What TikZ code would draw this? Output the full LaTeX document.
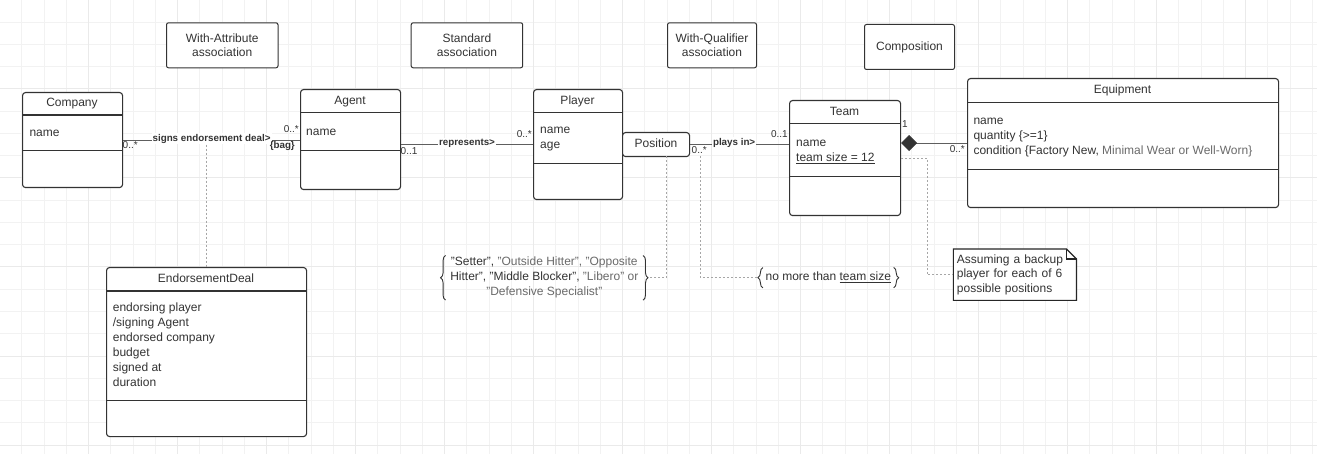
\documentclass[tikz,border=0pt]{standalone}
\usepackage{fontspec}
\setmainfont{Liberation Sans}
\usetikzlibrary{arrows.meta,decorations.pathreplacing,calc}
\definecolor{ink}{HTML}{333333}
\definecolor{softink}{HTML}{6A6A6A}
\definecolor{lineclr}{HTML}{5E5E5E}
\definecolor{dotclr}{HTML}{A6A6A6}
\definecolor{gridminor}{HTML}{F2F2F2}
\definecolor{gridmajor}{HTML}{EAEAEA}
\tikzset{
  cls/.style={draw=ink, line width=1.1pt, rounded corners=3pt, fill=white, inner sep=0pt, anchor=north west, text=ink, font=\fontsize{12}{14}\selectfont},
  sepl/.style={draw=ink, line width=1.1pt},
  ttl/.style={font=\fontsize{12}{14}\selectfont, text=ink, anchor=base, inner sep=0pt},
  attr/.style={font=\fontsize{12}{15}\selectfont, text=ink, anchor=north west, inner sep=0pt, align=left},
  tag/.style={draw=ink, line width=1pt, rounded corners=2pt, fill=white, inner sep=0pt, anchor=north west, align=center, text=ink, font=\fontsize{12}{13.6}\selectfont},
  conn/.style={draw=lineclr, line width=0.9pt},
  dotc/.style={draw=dotclr, line width=1pt, dash pattern=on 2pt off 2pt},
  lbl/.style={font=\fontsize{9.8}{11}\selectfont\bfseries, text=ink, fill=white, inner sep=1pt, anchor=base, yshift=-1pt},
  mult/.style={font=\fontsize{10}{12}\selectfont, text=ink, inner sep=0pt},
  brc/.style={draw=ink, line width=0.9pt, decorate, decoration={brace, amplitude=5pt, raise=-5pt}},
  cnstr/.style={font=\fontsize{12}{14.75}\selectfont, text=ink, inner ysep=0pt},
  notebox/.style={anchor=north west, fill=white, text width=116pt, inner xsep=3.4pt, inner ysep=0pt, minimum height=51pt, font=\fontsize{12}{14.5}\selectfont, text=ink, align=left},
  notec/.style={draw=black!85, line width=1.1pt}
}
\begin{document}
\begin{tikzpicture}[x=1pt,y=-1pt]
\useasboundingbox (0,0) rectangle (1317,454);
\fill[white] (0,0) rectangle (1317,454);
% grid
\foreach \i in {0,...,59}{\pgfmathsetmacro\gx{\i*22.25-0.5}\draw[gridminor, line width=1pt] (\gx,0) -- (\gx,454);}
\foreach \i in {0,...,20}{\pgfmathsetmacro\gy{\i*22.25}\draw[gridminor, line width=1pt] (0,\gy) -- (1317,\gy);}
\foreach \i in {0,...,14}{\pgfmathsetmacro\gx{\i*89-0.5}\draw[gridmajor, line width=1pt] (\gx,0) -- (\gx,454);}
\foreach \i in {0,...,5}{\pgfmathsetmacro\gy{\i*89}\draw[gridmajor, line width=1pt] (0,\gy) -- (1317,\gy);}

% top tags
\node[tag, minimum width=111.5pt, minimum height=45pt] (tagA) at (166,22.3) {With-Attribute\\association};
\node[tag, minimum width=111.5pt, minimum height=45pt] (tagS) at (410.7,22.3) {Standard\\association};
\node[tag, minimum width=89pt, minimum height=45pt] (tagQ) at (667,22.3) {With-Qualifier\\association};
\node[tag, minimum width=90pt, minimum height=45pt] (tagC) at (864,24) {Composition};

% classes
\node[cls, minimum width=100pt, minimum height=95pt] (company) at (22,92) {};
\draw[sepl] (22,115) -- (122,115);
\draw[sepl] (22,150.7) -- (122,150.7);
\node[ttl] (companyT) at (72,106.7) {Company};
\node[attr] (companyA) at (29.3,125.5) {\strut name};

\node[cls, minimum width=100pt, minimum height=100pt] (agent) at (300,89) {};
\draw[sepl] (300,112.7) -- (400,112.7);
\draw[sepl] (300,150.7) -- (400,150.7);
\node[ttl] (agentT) at (350,105) {Agent};
\node[attr] (agentA) at (306,124.5) {\strut name};

\node[cls, minimum width=89pt, minimum height=110pt] (player) at (533,89) {};
\draw[sepl] (533,112.7) -- (622,112.7);
\draw[sepl] (533,163.3) -- (622,163.3);
\node[ttl] (playerT) at (577.5,105) {Player};
\node[attr] (playerA) at (540,122.8) {\strut name\\age};

\node[cls, minimum width=67pt, minimum height=24pt, text height=8.6pt, text depth=3.5pt] (position) at (622,132) {Position};

\node[cls, minimum width=111pt, minimum height=115pt] (team) at (789,100) {};
\draw[sepl] (789,123.3) -- (900,123.3);
\draw[sepl] (789,176.7) -- (900,176.7);
\node[ttl] (teamT) at (844.5,115.7) {Team};
\node[attr] (teamA) at (796,135.5) {\strut name\\\underline{team size = 12}};

\node[cls, minimum width=311pt, minimum height=129pt] (equipment) at (967,78) {};
\draw[sepl] (967,102.3) -- (1278,102.3);
\draw[sepl] (967,169.3) -- (1278,169.3);
\node[ttl] (equipmentT) at (1122.5,93.3) {Equipment};
\node[attr] (equipmentA) at (973.3,113.8) {\strut name\\quantity \{>=1\}\\condition \{Factory New, \textcolor{softink}{Minimal Wear or Well-Worn\}}};

\node[cls, minimum width=200pt, minimum height=169pt] (deal) at (106,267) {};
\draw[sepl] (106,291) -- (306,291);
\draw[sepl] (106,400.7) -- (306,400.7);
\node[ttl] (dealT) at (206,282.3) {EndorsementDeal};
\node[attr] (dealA) at (112.7,300.5) {\strut endorsing player\\/signing Agent\\endorsed company\\budget\\signed at\\duration};

% associations
\draw[conn] (company.east) -- node[lbl, pos=0.5] (sed) {signs endorsement deal>} (company.east -| agent.west);
\draw[conn] (agent.east |- player.west) -- node[lbl, pos=0.5] (rep) {represents>} (player.west);
\draw[conn] (position.east) -- node[lbl, pos=0.445] (pin) {plays in>} (position.east -| team.west);
\draw[conn, -{Diamond[length=16pt, width=16pt, color=ink, fill=ink]}] (equipment.west) -- (equipment.west -| team.east);

% multiplicities
\node[mult, anchor=base west] (m1) at (122.5,149) {0..*};
\node[mult, anchor=base east] (m2) at (299,132.7) {0..*};
\node[mult, anchor=base east, font=\fontsize{9.8}{11}\selectfont\bfseries] (m3) at (295,149) {\{bag\}};
\node[mult, anchor=base west] (m4) at (400.5,154.5) {0..1};
\node[mult, anchor=base east] (m5) at (532,137.3) {0..*};
\node[mult, anchor=base west] (m6) at (691.5,154) {0..*};
\node[mult, anchor=base east] (m7) at (788,137.3) {0..1};
\node[mult, anchor=base west] (m8) at (902,127.3) {1};
\node[mult, anchor=base east] (m9) at (965,152.7) {0..*};

% association class link
\draw[dotc] (deal.north |- sed.south) -- (deal.north);

% constraints
\node[cnstr, align=center, inner xsep=9.5pt] (setc) at (544.3,277.8) {\strut "Setter", \textcolor{softink}{"Outside Hitter", "Opposite}\\Hitter", "Middle Blocker", \textcolor{softink}{"Libero" or}\\\textcolor{softink}{"Defensive Specialist"}\strut};
\draw[brc] (setc.south west) -- (setc.north west);
\draw[brc] (setc.north east) -- (setc.south east);

\node[cnstr, inner xsep=7.5pt, text height=13pt, text depth=7pt, anchor=base] (tsc) at (828.3,280.7) {no more than \underline{team size}};
\draw[brc] (tsc.south west) -- (tsc.north west);
\draw[brc] (tsc.north east) -- (tsc.south east);

\coordinate (pqb) at (666.7,156.5);
\coordinate (pqa) at (700,156.5);
\draw[dotc] (pqb) |- (setc.east);
\draw[dotc] (pqa) |- (tsc.west);

% note
\node[notebox] (note) at (953.3,249) {\strut Assuming a backup\\player for each of 6\\possible positions\strut};
\draw[notec] (note.north west) -- ($(note.north east)+(-10,0)$) -- ($(note.north east)+(0,10)$) -- (note.south east) -- (note.south west) -- cycle;
\draw[notec] ($(note.north east)+(-10,0)$) -- ($(note.north east)+(-10,10)$) -- ($(note.north east)+(0,10)$);
\draw[dotc] (team.east) -| ($(team.east)!0.5!(note.west)$) |- (note.west);
\end{tikzpicture}
\end{document}
